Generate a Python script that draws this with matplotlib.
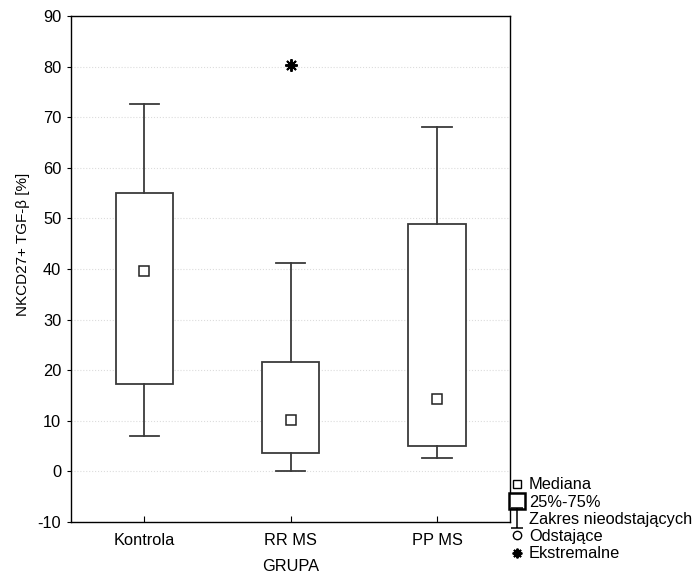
import matplotlib.pyplot as plt
from matplotlib.lines import Line2D
from matplotlib.path import Path

plt.rcParams['font.family'] = ['Liberation Sans', 'DejaVu Sans']
plt.rcParams['font.size'] = 11.8
plt.rcParams['axes.unicode_minus'] = False

groups = ['Kontrola', 'RR MS', 'PP MS']
medians = [39.6, 10.2, 14.3]
q1 = [17.3, 3.6, 5.0]
q3 = [55.0, 21.6, 48.9]
whisker_lo = [7.0, 0.1, 2.6]
whisker_hi = [72.6, 41.2, 68.1]
extremes = [[], [80.3], []]

stats = []
for i in range(len(groups)):
    stats.append({'med': medians[i], 'q1': q1[i], 'q3': q3[i],
                  'whislo': whisker_lo[i], 'whishi': whisker_hi[i],
                  'fliers': []})

fig = plt.figure(figsize=(6.96, 5.73), dpi=100)
ax = fig.add_axes([0.102, 0.089, 0.631, 0.883])

edge = '#3a3a3a'
pos = list(range(len(groups)))
ax.bxp(stats, positions=pos, widths=0.39, showfliers=False, patch_artist=True,
       boxprops=dict(facecolor='white', edgecolor=edge, linewidth=1.3),
       whiskerprops=dict(color=edge, linewidth=1.3),
       capprops=dict(color=edge, linewidth=1.3),
       medianprops=dict(linewidth=0), capwidths=0.2, zorder=3)

ax.plot(pos, medians, 's', ms=7, mfc='white', mec='#222222', mew=1.1, zorder=4, ls='none')
for i, ext in enumerate(extremes):
    for v in ext:
        ax.plot(i, v, marker=(8, 2, 0), ms=9, color='black', mew=1.4, zorder=4)

ax.set_xlim(-0.5, 2.5)
ax.set_ylim(-10, 90)
ax.set_yticks(range(-10, 91, 10))
ax.set_xticks(pos)
ax.set_xticklabels(groups)
ax.tick_params(axis='x', direction='in', length=4, pad=8)
ax.tick_params(axis='y', direction='out', length=3, pad=4)
ax.grid(axis='y', color='#dcdcdc', linestyle=':', linewidth=0.8, zorder=0)
ax.set_axisbelow(True)
ax.set_xlabel('GRUPA', labelpad=8)
ax.set_ylabel('NKCD27+ TGF-β [%]', fontsize=11)
ax.yaxis.set_label_coords(-0.094, 0.549)
for s in ax.spines.values():
    s.set_linewidth(1.0)

# whisker-like legend symbol
whisk = Path([(-0.6, 1), (0.6, 1), (0, 1), (0, -1), (-0.6, -1), (0.6, -1)],
             [Path.MOVETO, Path.LINETO, Path.MOVETO, Path.LINETO, Path.MOVETO, Path.LINETO])

handles = [
    Line2D([], [], ls='none', marker='s', ms=6, mfc='white', mec='black', mew=1),
    Line2D([], [], ls='none', marker='s', ms=11, mfc='white', mec='black', mew=1.8),
    Line2D([], [], ls='none', marker=whisk, ms=15, color='black', mew=1.1),
    Line2D([], [], ls='none', marker='o', ms=6, mfc='white', mec='black', mew=1),
    Line2D([], [], ls='none', marker=(8, 2, 0), ms=7, color='black', mew=1.4),
]
labels = ['Mediana', '25%-75%', 'Zakres nieodstających', 'Odstające', 'Ekstremalne']
fig.legend(handles, labels, loc='upper left', bbox_to_anchor=(0.734, 0.167),
           frameon=False, handlelength=0.8, handletextpad=0.3,
           labelspacing=0.14, borderpad=0, borderaxespad=0)

fig.savefig('out.png', dpi=100)
